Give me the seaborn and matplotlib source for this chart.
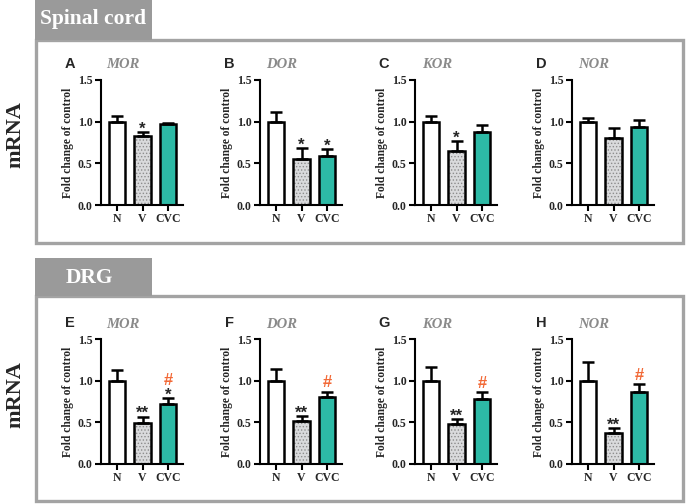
import matplotlib
matplotlib.use("Agg")
import matplotlib.pyplot as plt
from matplotlib.patches import Rectangle
from matplotlib.ticker import FormatStrFormatter
import numpy as np
import pandas as pd
import seaborn as sns

# ------------------------------------------------------------
# data
# ------------------------------------------------------------
groups = ["N", "V", "CVC"]
genes = ["MOR", "DOR", "KOR", "NOR"]

spinal_letters = ["A", "B", "C", "D"]
spinal_mean = [[1.00, 0.83, 0.97], [1.00, 0.55, 0.59], [1.00, 0.65, 0.88], [1.00, 0.80, 0.94]]
spinal_err = [[0.07, 0.05, 0.02], [0.12, 0.13, 0.08], [0.07, 0.12, 0.08], [0.05, 0.12, 0.08]]
spinal_star = [["", "*", ""], ["", "*", "*"], ["", "*", ""], ["", "", ""]]
spinal_hash = [["", "", ""], ["", "", ""], ["", "", ""], ["", "", ""]]

drg_letters = ["E", "F", "G", "H"]
drg_mean = [[1.00, 0.49, 0.72], [1.00, 0.52, 0.80], [1.00, 0.48, 0.78], [1.00, 0.37, 0.86]]
drg_err = [[0.13, 0.08, 0.07], [0.14, 0.06, 0.07], [0.17, 0.06, 0.08], [0.23, 0.06, 0.10]]
drg_star = [["", "**", "*"], ["", "**", ""], ["", "**", ""], ["", "**", ""]]
drg_hash = [["", "", "#"], ["", "", "#"], ["", "", "#"], ["", "", "#"]]

yticks = [0.0, 0.5, 1.0, 1.5]

# ------------------------------------------------------------
# style
# ------------------------------------------------------------
sns.set_style("white")
plt.rcParams["font.family"] = ["Liberation Serif", "DejaVu Serif"]
plt.rcParams["hatch.linewidth"] = 0.6

palette = {"N": "#ffffff", "V": "#d9dadc", "CVC": "#2dbaa6"}
FRAME = "#a3a3a3"
HEADER = "#9a9a9a"
GENE_COL = "#8a8a8a"
HASH_COL = "#f26a38"

W, H = 687, 504
fig = plt.figure(figsize=(W / 100, H / 100), dpi=100)


def fx(px):
    return px / W


def fy(py):
    return 1 - py / H


# frames and header tabs
for top, bottom, tab_top, label, lx, ly in [(40, 243, 0, "Spinal cord", 93, 19),
                                            (296, 501, 258, "DRG", 89, 278)]:
    fig.patches.append(Rectangle((fx(36), fy(bottom)), fx(683) - fx(36), fy(top) - fy(bottom),
                                 transform=fig.transFigure, fill=False,
                                 edgecolor=FRAME, linewidth=2.4, zorder=0))
    fig.patches.append(Rectangle((fx(35), fy(top)), fx(152) - fx(35), fy(tab_top) - fy(top),
                                 transform=fig.transFigure, facecolor=HEADER,
                                 edgecolor="none", zorder=0))
    fig.text(fx(lx), fy(ly), label, color="white", fontsize=15.5, fontweight="bold",
             ha="center", va="center")

fig.text(fx(15), fy(135), "mRNA", rotation=90, fontsize=16, fontweight="bold",
         ha="center", va="center")
fig.text(fx(15), fy(395), "mRNA", rotation=90, fontsize=16, fontweight="bold",
         ha="center", va="center")

axes_left = [101, 260, 415, 572]
axes_w = 82


def draw_panel(left, top, bottom, letter, gene, means, errs, stars, hashes):
    ax = fig.add_axes([fx(left), fy(bottom), fx(axes_w), (bottom - top) / H])
    df = pd.DataFrame({"group": groups, "value": means})
    sns.barplot(data=df, x="group", y="value", hue="group", palette=palette,
                order=groups, hue_order=groups, errorbar=None, width=0.64,
                saturation=1, edgecolor="black", linewidth=1.8, legend=False, ax=ax)

    # dotted fill for the V bar
    bar = ax.patches[1]
    ax.add_patch(Rectangle(bar.get_xy(), bar.get_width(), bar.get_height(),
                           facecolor=bar.get_facecolor(), edgecolor="#8c8c8c",
                           hatch=".....", linewidth=0, zorder=bar.get_zorder() - 0.1))
    bar.set_facecolor("none")

    x = np.arange(len(groups))
    ax.errorbar(x, means, yerr=[np.zeros(len(errs)), errs], fmt="none",
                ecolor="black", elinewidth=1.8, capsize=4, capthick=1.8, zorder=3)

    for i, (m, e, s, h) in enumerate(zip(means, errs, stars, hashes)):
        tip = m + e
        if s:
            ax.text(i, tip - 0.02, s, ha="center", va="baseline", fontsize=12,
                    fontweight="bold", family="Liberation Sans")
        if h:
            ax.text(i, tip + (0.16 if s else 0.05), h, ha="center", va="baseline",
                    fontsize=12, fontweight="bold", color=HASH_COL,
                    family="Liberation Sans")

    ax.set_xlim(-0.64, 2.6)
    ax.set_ylim(0, 1.5)
    ax.set_yticks(yticks)
    ax.yaxis.set_major_formatter(FormatStrFormatter("%.1f"))
    ax.set_xlabel("")
    ax.set_ylabel("Fold change of control", fontsize=8.3, fontweight="bold", labelpad=3)
    sns.despine(ax=ax)
    for side in ["left", "bottom"]:
        ax.spines[side].set_linewidth(1.5)
        ax.spines[side].set_color("black")
    ax.tick_params(axis="both", direction="out", length=4, width=1.5, color="black",
                   labelsize=8.5, pad=2, left=True, bottom=True)
    for lab in ax.get_xticklabels() + ax.get_yticklabels():
        lab.set_fontweight("bold")
    ax.set_facecolor("none")

    fig.text(fx(left - 31), fy(top - 16), letter, fontsize=10.5, fontweight="bold",
             family="Liberation Sans", ha="center", va="center")
    fig.text(fx(left + 22), fy(top - 15), gene, fontsize=10.5, fontweight="bold",
             style="italic", color=GENE_COL, ha="center", va="center")
    return ax


for k in range(4):
    draw_panel(axes_left[k], 80, 205, spinal_letters[k], genes[k], spinal_mean[k],
               spinal_err[k], spinal_star[k], spinal_hash[k])
    draw_panel(axes_left[k], 339, 464, drg_letters[k], genes[k], drg_mean[k],
               drg_err[k], drg_star[k], drg_hash[k])

fig.savefig("out.png", dpi=100)
